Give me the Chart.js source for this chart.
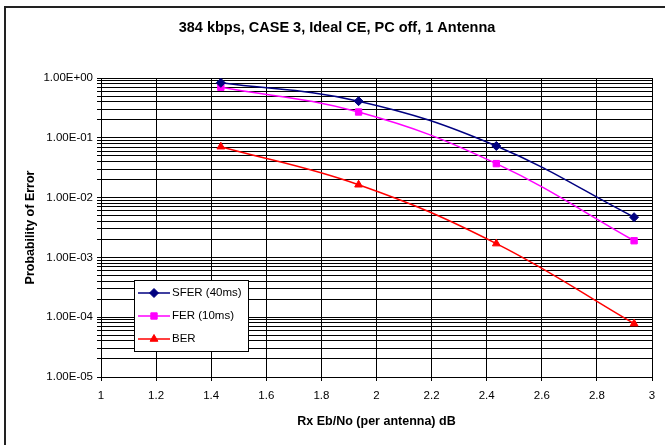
<!DOCTYPE html>
<html>
<head>
<meta charset="utf-8">
<script src="https://cdn.jsdelivr.net/npm/chart.js@4/dist/chart.umd.min.js"></script>
<style>
  html, body { margin: 0; padding: 0; background: #fff; }
  #wrap { width: 665px; height: 445px; position: relative; }
</style>
</head>
<body>
<div id="wrap"><canvas id="chart" width="665" height="445"></canvas></div>
<script>
// data
const ebNo = [1.435, 1.935, 2.435, 2.935]
const sfer = [0.83, 0.41, 0.073, 0.0047]
const fer = [0.70, 0.27, 0.037, 0.0019]
const ber = [0.071, 0.0164, 0.0017, 0.000078]
const seriesNames = ['SFER (40ms)', 'FER (10ms)', 'BER']
const seriesColors = ['#000080', '#FF00FF', '#FF0000']
const seriesMarkers = ['rectRot', 'rect', 'triangle']
const chartTitle = '384 kbps, CASE 3, Ideal CE, PC off, 1 Antenna'

const FONT = '"Liberation Sans", Arial, sans-serif'

function sciLabel(v) {
  const e = Math.round(Math.log10(v))
  const m = v / Math.pow(10, e)
  const sign = e < 0 ? '-' : '+'
  return m.toFixed(2) + 'E' + sign + String(Math.abs(e)).padStart(2, '0')
}

function toPoints(ys) {
  return ebNo.map((x, i) => ({ x, y: ys[i] }))
}

// white page, frame round the chart and the title
const framePlugin = {
  id: 'frame',
  beforeDraw(chart) {
    const ctx = chart.ctx
    ctx.save()
    ctx.fillStyle = '#fff'
    ctx.fillRect(0, 0, chart.width, chart.height)
    ctx.strokeStyle = '#222'
    ctx.lineWidth = 2
    ctx.strokeRect(5, 7, chart.width + 10, chart.height + 10)
    ctx.fillStyle = '#000'
    ctx.font = 'bold 14.5px ' + FONT
    ctx.textAlign = 'center'
    ctx.textBaseline = 'middle'
    ctx.fillText(chartTitle, 337, 28)
    ctx.restore()
  },
}

// legend box drawn inside the plot like the original
const boxLegend = {
  id: 'boxLegend',
  afterDraw(chart) {
    const ctx = chart.ctx
    const x = 134, y = 280, w = 114, h = 71
    ctx.save()
    ctx.fillStyle = '#fff'
    ctx.fillRect(x, y, w, h)
    ctx.strokeStyle = '#000'
    ctx.lineWidth = 1
    ctx.strokeRect(x + 0.5, y + 0.5, w, h)
    ctx.textBaseline = 'middle'
    chart.data.datasets.forEach((ds, i) => {
      const cy = y + 13 + i * 23
      ctx.strokeStyle = ds.borderColor
      ctx.fillStyle = ds.borderColor
      ctx.lineWidth = 1.5
      ctx.beginPath()
      ctx.moveTo(x + 4, cy)
      ctx.lineTo(x + 36, cy)
      ctx.stroke()
      ctx.lineWidth = 1
      Chart.helpers.drawPoint(ctx, {
        pointStyle: ds.pointStyle,
        radius: ds.pointRadius,
        borderWidth: 1,
        rotation: 0,
      }, x + 20, cy)
      ctx.fillStyle = '#000'
      ctx.font = '11.5px ' + FONT
      ctx.fillText(ds.label, x + 38, cy)
    })
    ctx.restore()
  },
}

const datasets = [sfer, fer, ber].map((ys, i) => ({
  label: seriesNames[i],
  data: toPoints(ys),
  borderColor: seriesColors[i],
  backgroundColor: seriesColors[i],
  pointStyle: seriesMarkers[i],
  pointRadius: 4.5,
  pointBorderWidth: 1,
  borderWidth: 1.5,
  tension: 0.4,
}))

const yTicks = []
for (let e = -5; e <= 0; e++) {
  for (let m = 1; m <= 9; m++) {
    const v = m * Math.pow(10, e)
    if (v <= 1.0000001) yTicks.push({ value: v })
  }
}

new Chart(document.getElementById('chart'), {
  type: 'line',
  data: { datasets },
  plugins: [framePlugin, boxLegend],
  options: {
    responsive: false,
    animation: false,
    layout: { padding: { left: 0, right: 13, top: 78, bottom: 0 } },
    plugins: {
      legend: { display: false },
      tooltip: { enabled: false },
      title: { display: false },
    },
    scales: {
      x: {
        type: 'linear',
        min: 1,
        max: 3,
        ticks: {
          stepSize: 0.2,
          color: '#000',
          font: { family: FONT, size: 11.5 },
          padding: 8,
          maxRotation: 0,
          callback: (v) => String(Number(v.toFixed(1))),
        },
        grid: { color: '#000', lineWidth: 1, tickLength: 4, drawTicks: true },
        border: { color: '#000', width: 1 },
        title: {
          display: true,
          text: 'Rx Eb/No (per antenna) dB',
          color: '#000',
          font: { family: FONT, size: 12.5, weight: 'bold' },
          padding: { top: 0, bottom: 16 },
        },
        afterFit(scale) { scale.height = 68 },
      },
      y: {
        type: 'logarithmic',
        min: 1e-5,
        max: 1,
        afterBuildTicks(scale) { scale.ticks = yTicks.map((t) => ({ value: t.value })) },
        ticks: {
          autoSkip: false,
          color: '#000',
          font: { family: FONT, size: 11.5 },
          padding: 4,
          callback: (v) => {
            const l = Math.log10(v)
            return Math.abs(l - Math.round(l)) < 1e-9 ? sciLabel(v) : ''
          },
        },
        grid: {
          color: '#000',
          lineWidth: 1,
          tickLength: 4,
        },
        border: { color: '#000', width: 1 },
        title: {
          display: true,
          text: 'Probability of Error',
          color: '#000',
          font: { family: FONT, size: 12.5, weight: 'bold' },
          padding: { top: 23, bottom: 0 },
        },
        afterFit(scale) { scale.width = 101 },
      },
    },
  },
})
</script>
</body>
</html>
